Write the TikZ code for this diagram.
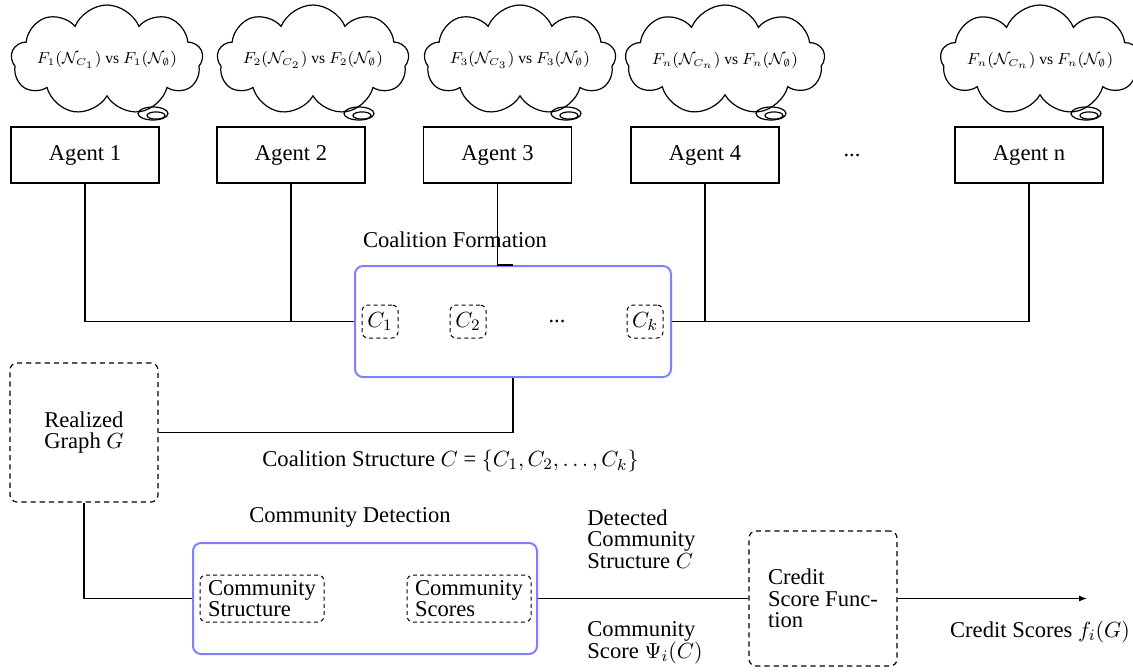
\documentclass[tikz,border=0pt]{standalone}
\usepackage{fontspec}
\setmainfont{Liberation Serif}
\usetikzlibrary{shapes.symbols,arrows.meta}
\tikzset{
  base/.style={font=\fontsize{11.3}{10.8}\selectfont},
  thought/.style={shape=cloud, draw, line width=0.6pt, cloud puffs=9, cloud puff arc=135, cloud ignores aspect,
    minimum width=94pt, minimum height=55pt, inner sep=0pt, font=\fontsize{7.8}{9}\selectfont},
  agent/.style={base, draw, line width=0.6pt, minimum width=74pt, minimum height=28pt, inner sep=0pt},
  bluebox/.style={draw=blue!50, line width=1pt, rounded corners=4pt, inner sep=0pt},
  dbox/.style={base, draw, line width=0.6pt, dash pattern=on 2.6pt off 2pt, rounded corners=3.5pt, inner sep=0pt, align=left},
  sbox/.style={base, draw, line width=0.5pt, dash pattern=on 2pt off 1.6pt, rounded corners=3pt, inner sep=0pt, align=left},
  lbl/.style={base, inner sep=0pt, align=left},
  conn/.style={line width=0.6pt},
}
\begin{document}
\begin{tikzpicture}[x=0.5pt, y=-0.5pt]
\useasboundingbox (0,0) rectangle (1133,671);
% thought clouds
\node[thought] (t1) at (107,60) {$F_1(\mathcal{N}_{C_1})$ vs $F_1(\mathcal{N}_\emptyset)$};
\node[thought] (t2) at (313,60) {$F_2(\mathcal{N}_{C_2})$ vs $F_2(\mathcal{N}_\emptyset)$};
\node[thought] (t3) at (520,60) {$F_3(\mathcal{N}_{C_3})$ vs $F_3(\mathcal{N}_\emptyset)$};
\node[thought] (t4) at (725,60) {$F_n(\mathcal{N}_{C_n})$ vs $F_n(\mathcal{N}_\emptyset)$};
\node[thought] (t5) at (1040,60) {$F_n(\mathcal{N}_{C_n})$ vs $F_n(\mathcal{N}_\emptyset)$};
\foreach \t in {t1,t2,t3,t4,t5}{
  \draw[line width=0.6pt] ([shift={(46,53.5)}]\t.center) ellipse [x radius=7.5pt, y radius=3.25pt];
  \draw[line width=0.6pt] ([shift={(49,55.5)}]\t.center) ellipse [x radius=4.5pt, y radius=1.8pt];
}
% agents
\node[agent] (a1) at (85,155) {Agent 1};
\node[agent] (a2) at (291,155) {Agent 2};
\node[agent] (a3) at (497.5,155) {Agent 3};
\node[agent] (a4) at (705,155) {Agent 4};
\node[lbl] (adots) at (852,155) {...};
\node[agent] (an) at (1029,155) {Agent n};
% coalition formation
\node[lbl] (cflabel) at (455,240) {Coalition Formation};
\node[bluebox, minimum width=158pt, minimum height=55.5pt] (coal) at (513,321.5) {};
\node[sbox, minimum width=18pt, minimum height=16.5pt] (c1) at (380,321.5) {$C_1$};
\node[sbox, minimum width=18pt, minimum height=16.5pt] (c2) at (468,321.5) {$C_2$};
\node[lbl] (cdots) at (557,321.5) {...};
\node[sbox, minimum width=18pt, minimum height=16.5pt] (ck) at (645,321.5) {$C_k$};
% realized graph
\node[dbox, minimum width=74pt, minimum height=69.5pt] (real) at (84,432.5) {Realized\\Graph $G$};
\node[lbl, anchor=west] (cslabel) at (262,461) {Coalition Structure $C$ = $\{C_1, C_2, \ldots, C_k\}$};
% community detection
\node[lbl] (cdlabel) at (350,517) {Community Detection};
\node[bluebox, minimum width=172pt, minimum height=55.5pt] (comm) at (365,598.5) {};
\node[sbox, minimum width=62pt, minimum height=23.5pt] (cstruct) at (262,598.5) {Community\\Structure};
\node[sbox, minimum width=62pt, minimum height=23.5pt] (cscore) at (469,598.5) {Community\\Scores};
\node[lbl, anchor=west] (detlabel) at (587,539) {Detected\\Community\\Structure $C$};
\node[lbl, anchor=west] (scorelabel) at (587,643) {Community\\Score $\Psi_i(C)$};
% credit score function
\node[dbox, minimum width=74pt, minimum height=67.5pt] (credit) at (823,598.5) {Credit\\Score Func-\\tion};
\coordinate (out) at (1087,598.5);
\node[lbl] (outlabel) at (1040,632) {Credit Scores $f_i(G)$};
% connectors
\draw[conn] (a1.south) |- (coal.west);
\draw[conn] (a2.south) -- (a2.south |- coal.west);
\draw[conn] (a3.south) |- (coal.north);
\draw[conn] (a4.south) -- (a4.south |- coal.east);
\draw[conn] (an.south) |- (coal.east);
\draw[conn] (coal.south) |- (real.east);
\draw[conn] (real.south) |- (comm.west);
\draw[conn] (comm.east) -- (credit.west);
\draw[conn, -{Latex[length=4pt, width=3pt]}] (credit.east) -- (out);
\end{tikzpicture}
\end{document}
